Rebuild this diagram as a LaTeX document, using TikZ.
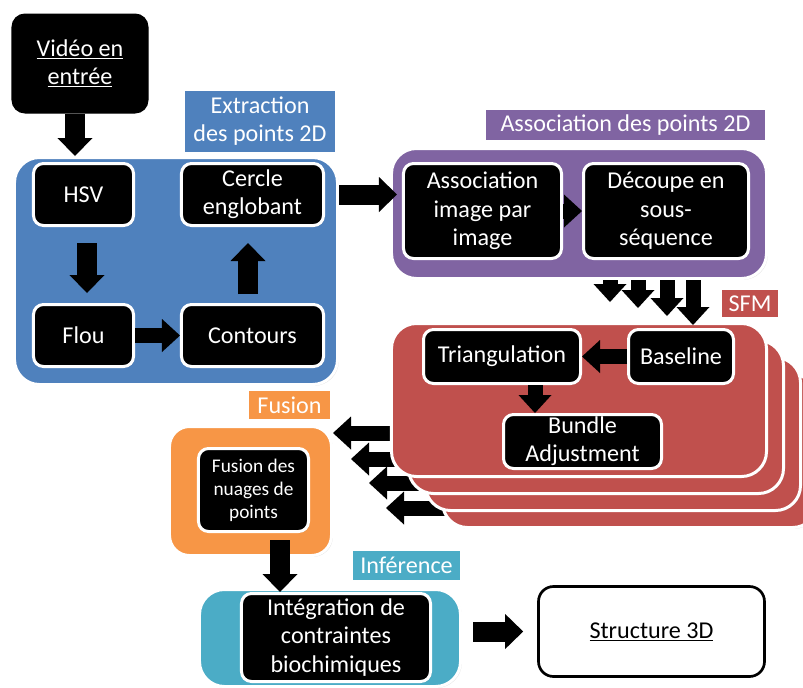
\documentclass[tikz,border=0pt]{standalone}
\usepackage{fontspec}
\setmainfont{Carlito}
\usetikzlibrary{arrows.meta,shadows}
\definecolor{extrblue}{HTML}{4F81BD}
\definecolor{assocpurple}{HTML}{8064A2}
\definecolor{sfmred}{HTML}{C0504D}
\definecolor{fusionorange}{HTML}{F79646}
\definecolor{infaqua}{HTML}{4BACC6}
\begin{document}
\begin{tikzpicture}[x=0.03cm, y=-0.03cm, font=\fontsize{20.6}{24.2}\selectfont,
  soft/.style={drop shadow={opacity=0.25, shadow xshift=0.04cm, shadow yshift=-0.04cm}},
  group/.style={soft, fill=#1, draw=white, line width=0.09cm, rounded corners=0.75cm},
  tag/.style={soft, fill=#1, draw=white, line width=0.09cm, text=white, align=center, inner sep=1pt},
  proc/.style={soft, fill=black, draw=white, line width=0.09cm, text=white, align=center, rounded corners=0.3cm, inner sep=1pt},
  bigarrow/.style={line width=0.6cm, -{Triangle[length=0.54cm, width=1.05cm, line width=0pt]}},
  midarrow/.style={line width=0.45cm, -{Triangle[length=0.54cm, width=0.99cm, line width=0pt]}}]
\useasboundingbox (0,0) rectangle (803,687);
\node[proc, draw=black, rounded corners=0.36cm, minimum width=4.02cm, minimum height=2.91cm] (video) at (80,63.5) {\underline{Vidéo en}\\\underline{entrée}};
\node[group=extrblue, minimum width=9.69cm, minimum height=6.81cm] (extr) at (176,271) {};
\node[tag=extrblue, minimum width=4.59cm, minimum height=1.92cm] (extrtag) at (260,121) {Extraction\\des points 2D};
\node[proc, minimum width=3cm, minimum height=1.86cm] (hsv) at (83.5,194.5) {HSV};
\node[proc, minimum width=4.26cm, minimum height=1.86cm] (cercle) at (252.5,194.5) {Cercle\\englobant};
\node[proc, minimum width=3cm, minimum height=1.86cm] (flou) at (83.5,335.5) {Flou};
\node[proc, minimum width=4.26cm, minimum height=1.86cm] (contours) at (252.5,335.5) {Contours};
\draw[bigarrow] (75,0 |- video.south) -- (75,0 |- extr.north);
\draw[bigarrow, shorten <=0.48cm, shorten >=0.3cm] (87,0 |- hsv.south) -- (87,0 |- flou.north);
\draw[midarrow] (flou) -- (contours);
\draw[bigarrow, shorten <=0.27cm, shorten >=0.48cm] (248,0 |- contours.north) -- (248,0 |- cercle.south);

\node[group=assocpurple, minimum width=11.25cm, minimum height=3.9cm] (purp) at (579,213.5) {};
\node[tag=assocpurple, minimum width=8.46cm, minimum height=0.99cm] (purptag) at (625.5,125) {Association des points 2D};
\node[proc, minimum width=4.74cm, minimum height=2.85cm] (assoc) at (482.5,211) {Association\\image par\\image};
\node[proc, minimum width=4.95cm, minimum height=2.85cm] (decoupe) at (666,211) {Découpe en\\sous-\\séquence};
\draw[midarrow] (assoc) -- (decoupe);
\draw[bigarrow, shorten >=-0.21cm] (extr.east |- cercle.east) -- (purp.west |- cercle.east);

\foreach \x/\y in {333/433, 351/459, 369/483, 386/508}
  \draw[midarrow] (\x+70,\y) -- (\x,\y);
\foreach \k in {3,2,1}
  \node[group=sfmred, minimum width=11.25cm, minimum height=4.59cm] (sfm\k) at (579+17*\k,400+17*\k) {};
\node[group=sfmred, minimum width=11.25cm, minimum height=4.59cm] (sfm) at (579,400) {};
\node[tag=sfmred, minimum width=1.77cm, minimum height=0.9cm] (sfmtag) at (750,303.5) {SFM};
\node[proc, minimum width=4.71cm, minimum height=1.62cm] (triang) at (502,356.5) {Triangulation};
\node[proc, minimum width=3.15cm, minimum height=1.62cm] (baseline) at (681,356.5) {Baseline};
\node[proc, minimum width=4.74cm, minimum height=1.62cm] (bundle) at (582.5,441.5) {Bundle\\Adjustment};
\draw[midarrow] (baseline) -- (triang);
\draw[midarrow] (535,0 |- triang.south) -- (535,0 |- bundle.north);
\foreach \x/\y in {610/302, 638/308, 667/316}
  \draw[midarrow] (\x,280) -- (\x,\y);
\draw[midarrow, shorten >=0.09cm] (693,0 |- purp.south) -- (693,0 |- baseline.north);

\node[tag=fusionorange, minimum width=2.52cm, minimum height=0.93cm] (fustag) at (289.5,405) {Fusion};
\node[group=fusionorange, rounded corners=0.6cm, minimum width=4.86cm, minimum height=3.87cm] (fus) at (250.5,491) {};
\node[proc, font=\fontsize{16.5}{19.5}\selectfont, minimum width=3.3cm, minimum height=2.49cm] (fusion) at (253.5,490) {Fusion des\\nuages de\\points};

\node[tag=infaqua, minimum width=3.3cm, minimum height=0.96cm] (inftag) at (406.5,565.5) {Inférence};
\node[group=infaqua, minimum width=7.83cm, minimum height=2.91cm] (inf) at (330,638) {};
\node[proc, minimum width=5.67cm, minimum height=2.64cm] (integ) at (336,637.5) {Intégration de\\contraintes\\biochimiques};
\draw[bigarrow, shorten <=0.21cm] (280,0 |- fusion.south) -- (280,0 |- integ.north);
\node[draw=black, line width=0.08cm, rounded corners=0.45cm, fill=white, align=center, minimum width=6.78cm, minimum height=2.7cm] (struct) at (651.5,631.5) {\underline{Structure 3D}};
\draw[bigarrow, shorten <=1.23cm, shorten >=0.42cm] (integ.east |- struct.west) -- (struct.west);
\end{tikzpicture}
\end{document}
